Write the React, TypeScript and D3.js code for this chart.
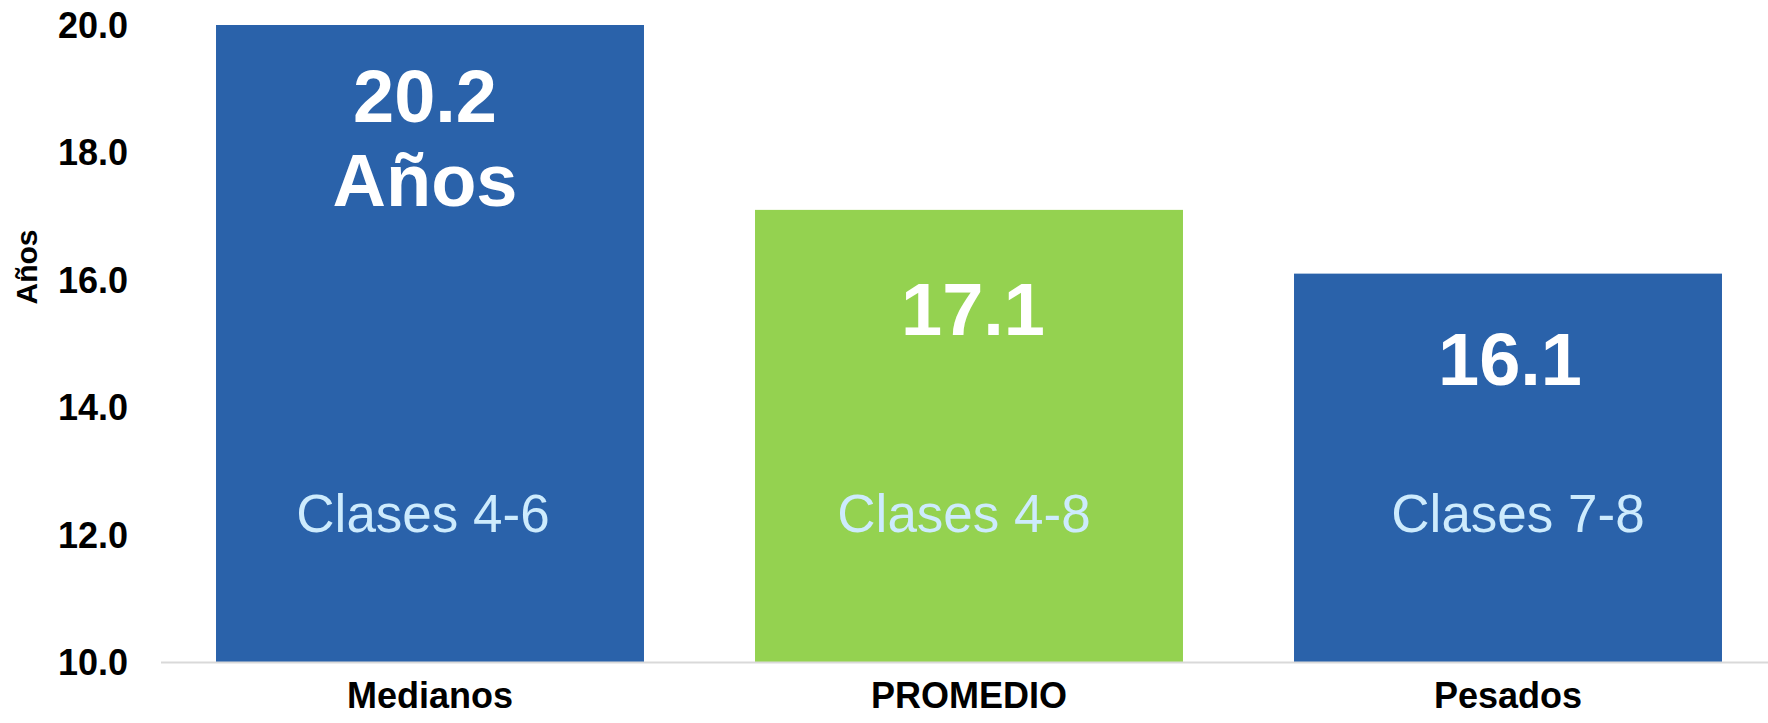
import React from "react";
import * as d3 from "d3";

const categories = ["Medianos", "PROMEDIO", "Pesados"];
const values = [20.2, 17.1, 16.1];
const valueLabels = [["20.2", "Años"], ["17.1"], ["16.1"]];
const classLabels = ["Clases 4-6", "Clases 4-8", "Clases 7-8"];
const barColors = ["#2a62aa", "#94d250", "#2a62aa"];
const yTicks = [10, 12, 14, 16, 18, 20];
const yAxisTitle = "Años";

const W = 1768;
const H = 723;
const FONT = "'Liberation Sans', Arial, sans-serif";

export default function App() {
  const x = d3
    .scaleBand<string>()
    .domain(categories)
    .range([160.5, 1777.5])
    .paddingInner(0.206)
    .paddingOuter(0.103);
  const y = d3.scaleLinear().domain([10, 20]).range([662.5, 25]);
  const labelOffsets = [97, 125, 111];
  const labelDx = [-5, 4, 2];
  const classDx = [-7, -5, 10];

  return (
    <div style={{ position: "absolute", left: 0, top: 0 }}>
      <svg width={W} height={H} style={{ display: "block", background: "#fff" }}>
        {categories.map((c, i) => {
          const top = y(Math.min(values[i], y.domain()[1]));
          return (
            <rect
              key={c}
              x={x(c)}
              y={top}
              width={x.bandwidth()}
              height={y(10) - top}
              fill={barColors[i]}
            />
          );
        })}
        <line x1={161} x2={W} y1={y(10)} y2={y(10)} stroke="#d9d9d9" strokeWidth={2} />
        {yTicks.map((t) => (
          <text
            key={t}
            x={128}
            y={y(t)}
            dy="0.35em"
            textAnchor="end"
            fontFamily={FONT}
            fontWeight="bold"
            fontSize={36}
            fill="#000"
          >
            {t.toFixed(1)}
          </text>
        ))}
        <text
          transform={`translate(37,267) rotate(-90)`}
          textAnchor="middle"
          fontFamily={FONT}
          fontWeight="bold"
          fontSize={30}
          fill="#000"
        >
          {yAxisTitle}
        </text>
        {categories.map((c) => (
          <text
            key={c}
            x={(x(c) as number) + x.bandwidth() / 2}
            y={708}
            textAnchor="middle"
            fontFamily={FONT}
            fontWeight="bold"
            fontSize={36}
            fill="#000"
          >
            {c}
          </text>
        ))}
        {categories.map((c, i) => {
          const cx = (x(c) as number) + x.bandwidth() / 2 + labelDx[i];
          const top = y(Math.min(values[i], y.domain()[1]));
          return (
            <text
              key={c}
              x={cx}
              y={top + labelOffsets[i]}
              textAnchor="middle"
              fontFamily={FONT}
              fontWeight="bold"
              fontSize={74}
              fill="#fff"
            >
              {valueLabels[i].map((l, j) => (
                <tspan key={j} x={cx} dy={j === 0 ? 0 : 84}>
                  {l}
                </tspan>
              ))}
            </text>
          );
        })}
        {categories.map((c, i) => (
          <text
            key={c}
            x={(x(c) as number) + x.bandwidth() / 2 + classDx[i]}
            y={532}
            textAnchor="middle"
            fontFamily={FONT}
            fontSize={53}
            fill="#cdebfd"
          >
            {classLabels[i]}
          </text>
        ))}
      </svg>
    </div>
  );
}
